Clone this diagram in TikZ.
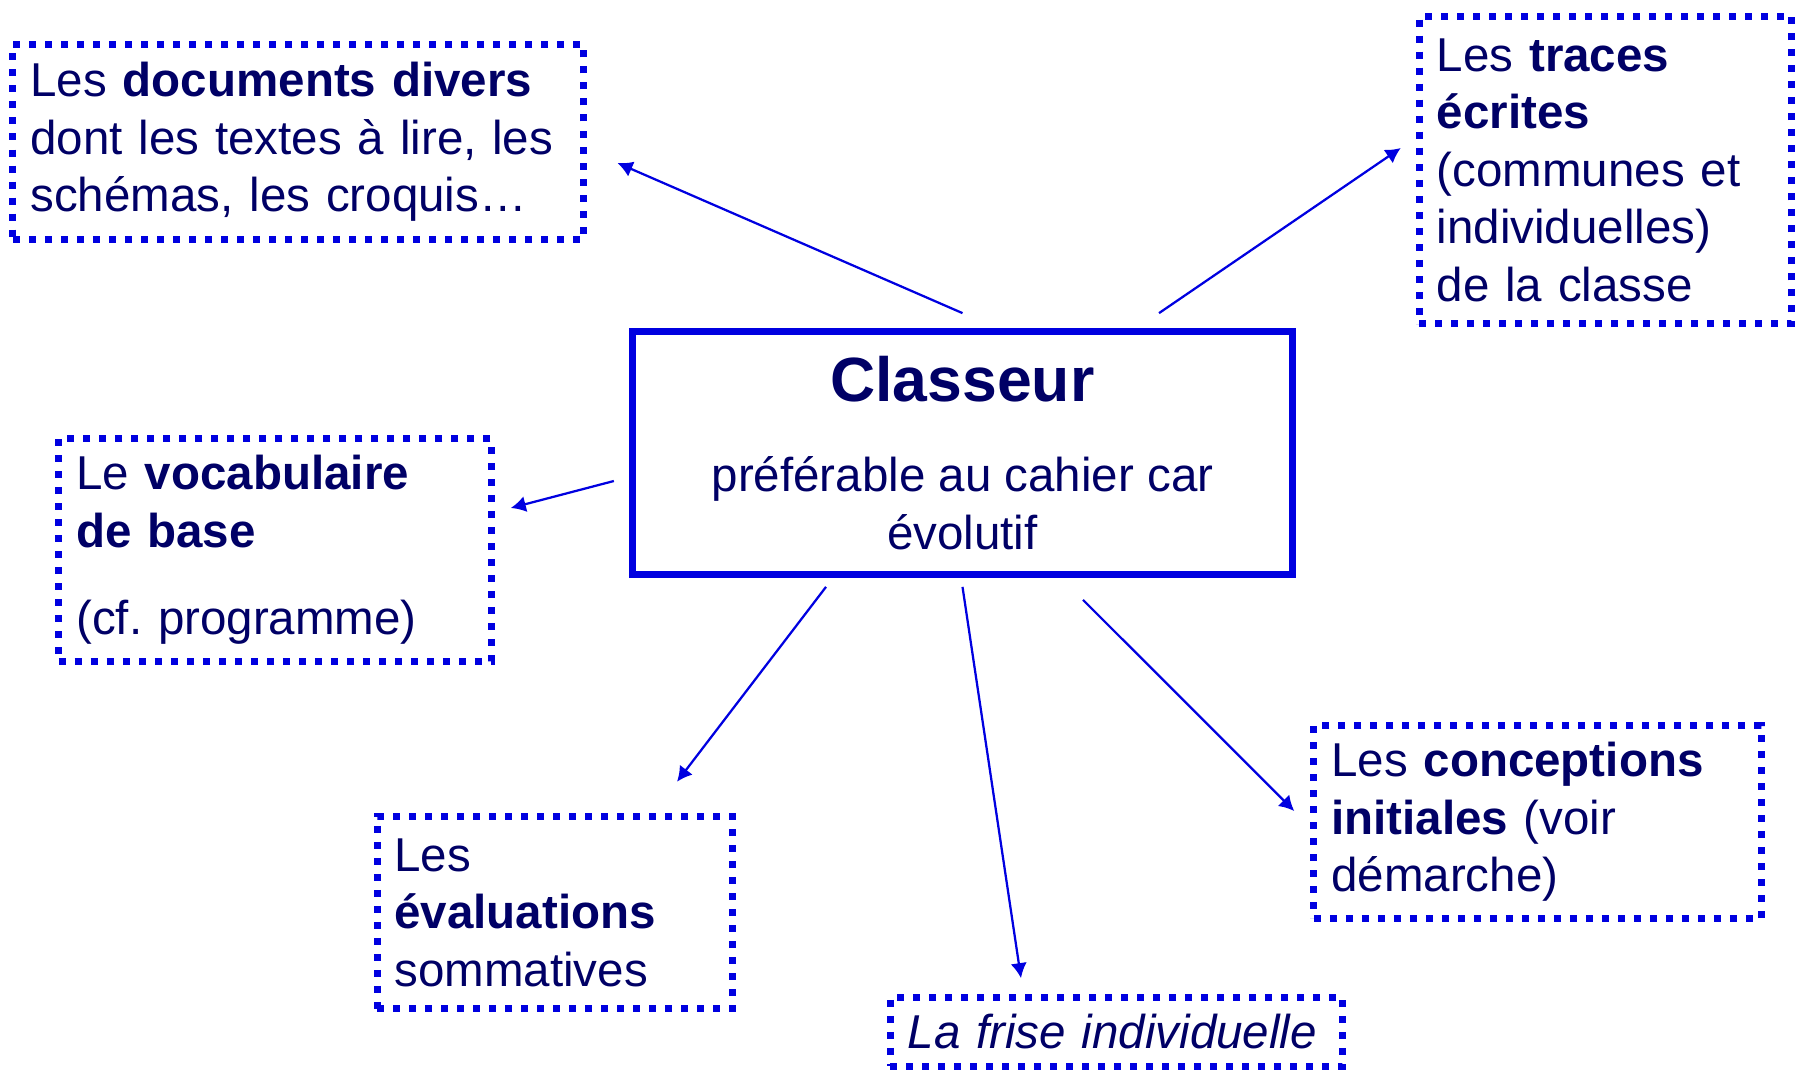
\documentclass[tikz,border=0pt]{standalone}
\usepackage{fontspec}
\setmainfont{Liberation Sans}
\usetikzlibrary{arrows.meta}
\definecolor{classblue}{RGB}{0,0,224}
\definecolor{classnavy}{RGB}{0,0,102}
\tikzset{
    classdots/.style={draw=classblue, line width=2.8pt, dash pattern=on 2.8pt off 3.6pt,
        text=classnavy, align=left, inner xsep=7pt, inner ysep=0pt},
    classmain/.style={draw=classblue, line width=2.9pt, text=classnavy, align=center,
        minimum width=264pt, minimum height=97pt, inner sep=0pt},
    classarrow/.style={-{Latex[length=6pt,width=6.5pt]}, draw=classblue, line width=0.9pt}
}

\begin{document}
\begin{tikzpicture}[x=0.4pt, y=-0.4pt, font=\fontsize{19}{23}\selectfont]
        \useasboundingbox (0,0) rectangle (1803,1072);

        \node[classmain] (classeur) at (962.5,453)
            {{\fontsize{25}{30}\selectfont\bfseries Classeur}\\[13pt]
             préférable au cahier car\\évolutif};

        \node[classdots, text width=214pt, minimum height=78pt] (docs) at (298,142)
            {Les \textbf{documents divers}\\dont les textes à lire, les\\schémas, les croquis…};
        \node[classdots, text width=135pt, minimum height=123pt] (traces) at (1605.5,170)
            {Les \textbf{traces}\\\textbf{écrites}\\(communes et\\individuelles)\\de la classe};
        \node[classdots, text width=159pt, minimum height=89pt] (vocab) at (275,550)
            {Le \textbf{vocabulaire}\\\textbf{de base}\\[12pt](cf.\ programme)};
        \node[classdots, text width=128pt, minimum height=77pt] (evals) at (554.5,912.5)
            {Les\\\textbf{évaluations}\\sommatives};
        \node[classdots, text width=167pt, minimum height=27.5pt] (frise) at (1116.5,1032)
            {\itshape La frise individuelle};
        \node[classdots, text width=165pt, minimum height=77pt] (concept) at (1537.5,822)
            {Les \textbf{conceptions}\\\textbf{initiales} (voir\\démarche)};

        \draw[classarrow] ([yshift=6pt]classeur.north) -- ([xshift=12.4pt,yshift=-8.4pt]docs.east);
        \draw[classarrow] ([xshift=78.6pt,yshift=6pt]classeur.north) -- ([xshift=-6pt,yshift=8.8pt]traces.west);
        \draw[classarrow] ([xshift=-6pt,yshift=-11.2pt]classeur.west) -- ([xshift=6.4pt,yshift=16.8pt]vocab.east);
        \draw[classarrow] ([xshift=-54.6pt,yshift=-3.6pt]classeur.south) -- ([xshift=49pt,yshift=12.4pt]evals.north);
        \draw[classarrow] ([yshift=-3.6pt]classeur.south) -- ([xshift=-38.2pt,yshift=6.4pt]frise.north);
        \draw[classarrow] ([xshift=48.2pt,yshift=-8.8pt]classeur.south) -- ([xshift=-6.4pt,yshift=4.4pt]concept.west);
    \end{tikzpicture}
\end{document}
